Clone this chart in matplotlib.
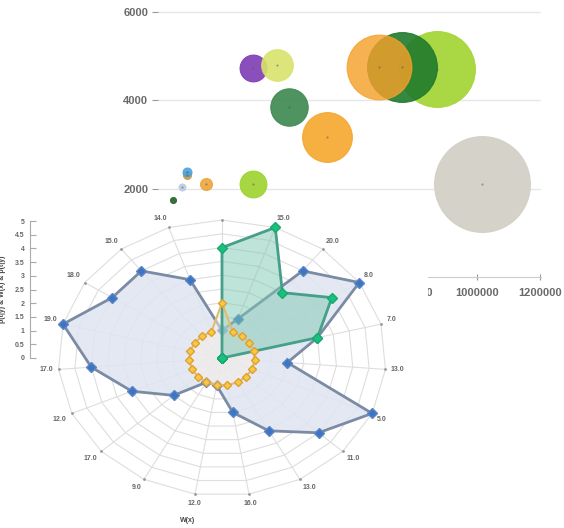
import numpy as np
import matplotlib
matplotlib.use("Agg")
import matplotlib.pyplot as plt

plt.rcParams['font.family'] = ['Liberation Sans', 'DejaVu Sans']

# bubble chart data (x, y, bubble value)
bubble_x = [873000, 762000, 689000, 289000, 365000, 403000, 524000, 289000,
            79000, 79000, 63000, 140000, 35000, 1016000]
bubble_y = [4690, 4757, 4757, 4712, 4780, 3853, 3175, 2113,
            2294, 2362, 2023, 2113, 1729, 2113]
bubble_z = [144000, 122000, 105000, 18000, 25000, 35000, 62000, 18000,
            1600, 2000, 1200, 3600, 900, 230000]
bubble_colors = ['#a6d63a', '#1f7a2c', '#f5a02a', '#7e3cb4', '#d8e36a', '#3f8a52',
                 '#f5a62c', '#9fd332', '#d69a3a', '#4aa3df', '#b9cde0', '#eda53a',
                 '#2e6b2e', '#d3d1c6']
bubble_alpha = [0.95, 0.9, 0.82, 0.9, 0.9, 0.92, 0.9, 0.92, 0.9, 0.9, 0.9, 0.9, 0.95, 0.95]
bubble_xticks = [0, 200000, 400000, 600000, 800000, 1000000, 1200000]
bubble_yticks = [2000, 4000, 6000]

# radar chart data
spoke_labels = ["10.0", "15.0", "20.0", "8.0", "7.0", "13.0", "5.0", "11.0", "13.0", "16.0",
                "12.0", "9.0", "17.0", "12.0", "17.0", "19.0", "18.0", "15.0", "14.0"]
blue_vals = [1.0, 1.5, 4.0, 5.0, 3.0, 2.0, 5.0, 4.0, 3.0, 2.0,
             1.0, 1.0, 2.0, 3.0, 4.0, 5.0, 4.0, 4.0, 3.0]
green_vals = [4.0, 5.0, 3.0, 4.0, 3.0, 0, 0, 0, 0, 0,
              0, 0, 0, 0, 0, 0, 0, 0, 0]
yellow_vals = [2.0, 1.0, 1.0, 1.0, 1.0, 1.0, 1.0, 1.0, 1.0, 1.0,
               1.0, 1.0, 1.0, 1.0, 1.0, 1.0, 1.0, 1.0, 1.0]
radar_ticks = [0, 0.5, 1, 1.5, 2, 2.5, 3, 3.5, 4, 4.5, 5]
radar_tick_labels = ["0", "0.5", "1", "1.5", "2", "2.5", "3", "3.5", "4", "4.5", "5"]

W, H = 564, 528
fig = plt.figure(figsize=(W / 100, H / 100), dpi=100)


def px_box(left, top, right, bottom):
    return [left / W, (H - bottom) / H, (right - left) / W, (bottom - top) / H]


# ---- bubble chart ----
ax = fig.add_axes(px_box(158, 0, 541, 277))
ax.set_xlim(-12700, 1203300)
ax.set_ylim(0, 6260)
for i in range(len(bubble_x)):
    c = bubble_colors[i]
    ax.scatter(bubble_x[i], bubble_y[i], s=np.array(bubble_z[i]) * 0.0207, color=c,
               alpha=bubble_alpha[i], edgecolors=matplotlib.colors.to_rgba(c, 1.0),
               linewidths=0.8, zorder=3)
    ax.scatter(bubble_x[i], bubble_y[i], s=2.5, color='#555555', alpha=0.5, zorder=4,
               linewidths=0)
for s in ['top', 'right', 'left']:
    ax.spines[s].set_visible(False)
ax.spines['bottom'].set_color('#cccccc')
ax.set_yticks(bubble_yticks)
ax.set_xticks(bubble_xticks)
ax.set_xticklabels([str(v) for v in bubble_xticks])
ax.yaxis.grid(True, color='#e6e6e6', lw=1)
ax.set_axisbelow(True)
ax.tick_params(axis='y', length=4, color='#999999', labelcolor='#6a6a6a', labelsize=8, pad=3)
ax.tick_params(axis='x', length=4, color='#999999', labelcolor='#6a6a6a', labelsize=8,
               direction='inout', pad=6)
for t in ax.get_xticklabels() + ax.get_yticklabels():
    t.set_fontweight('bold')

# ---- radar chart (drawn on white box over the bubble chart) ----
cx, cy = 222, 358
ux, uy = 164 / 5, 138 / 5
top, right = 214, 428
rax = fig.add_axes(px_box(0, top, right, H))
rax.set_facecolor('white')
rax.set_xlim(-cx / ux, (right - cx) / ux)
rax.set_ylim(-(H - cy) / uy, (cy - top) / uy)
for s in rax.spines.values():
    s.set_visible(False)
rax.set_xticks([])
rax.set_yticks([])

n = len(spoke_labels)
theta = np.arange(n) * 2 * np.pi / n
sx, sy = np.sin(theta), np.cos(theta)


def closed(v):
    v = np.asarray(v, dtype=float)
    return np.append(v * sx, v[0] * sx[0]), np.append(v * sy, v[0] * sy[0])


for r in np.arange(0.5, 5.01, 0.5):
    gx, gy = closed(np.full(n, r))
    rax.plot(gx, gy, color='#dedede', lw=0.8, zorder=1)
for i in range(n):
    rax.plot([0, 5 * sx[i]], [0, 5 * sy[i]], color='#dedede', lw=0.8, zorder=1)
    rax.plot(5 * sx[i], 5 * sy[i], marker='.', ms=2, color='#999999', zorder=1)
    ha = 'left' if sx[i] > 0.2 else ('right' if sx[i] < -0.2 else 'center')
    va = 'bottom' if sy[i] > 0.2 else ('top' if sy[i] < -0.2 else 'center')
    rax.annotate(spoke_labels[i], (5 * sx[i], 5 * sy[i]),
                 xytext=(4 * sx[i], 4 * sy[i]), textcoords='offset points',
                 ha=ha, va=va, fontsize=5, fontweight='bold', color='#666666',
                 annotation_clip=False, clip_on=True)

bx, by = closed(blue_vals)
rax.fill(bx, by, color='#dfe5f1', alpha=0.85, zorder=2)
rax.plot(bx, by, color='#7b8ba3', lw=2, zorder=3)
rax.plot(bx[:-1], by[:-1], 'D', ms=5, color='#3f74c0', mec='#5a86c6', zorder=4)

yx, yy = closed(yellow_vals)
rax.fill(yx, yy, color='#f7efe6', alpha=0.5, zorder=4.5)

gx, gy = closed(green_vals)
rax.fill(gx, gy, color='#7fc8b2', alpha=0.5, zorder=5)
rax.plot(gx, gy, color='#44a088', lw=2, zorder=6)

rax.plot(yx, yy, color='#e3bb6a', lw=1.5, zorder=9)
rax.plot(yx[:-1], yy[:-1], 'D', ms=4.5, color='#f6c94a', mec='#e0a030', zorder=10)
rax.plot(gx[:-1], gy[:-1], 'D', ms=5, color='#1cc07e', mec='#17a96d', zorder=11)

rax.text(188 / ux - cx / ux, -(520 - cy) / uy, "W(x)", ha='center', va='center',
         fontsize=5, fontweight='bold', color='#444444')

# radar value axis
yax = fig.add_axes(px_box(30, 221, 36, 358))
yax.set_ylim(0, 5)
yax.set_xticks([])
yax.set_yticks(radar_ticks)
yax.set_yticklabels(radar_tick_labels)
yax.patch.set_visible(False)
for s in ['top', 'right', 'bottom']:
    yax.spines[s].set_visible(False)
yax.spines['left'].set_color('#aaaaaa')
yax.tick_params(axis='y', direction='in', length=4, color='#aaaaaa', labelsize=5,
                labelcolor='#666666', pad=4)
for t in yax.get_yticklabels():
    t.set_fontweight('bold')
yax.set_ylabel("p(t|y) & W(x) & p(t|y)", fontsize=5, fontweight='bold', color='#444444',
               labelpad=6)

fig.savefig("out.png", dpi=100)
